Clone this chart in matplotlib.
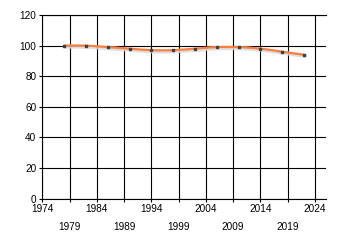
import numpy as np
import matplotlib
matplotlib.use("Agg")
import matplotlib.pyplot as plt
from matplotlib.path import Path
from matplotlib.patches import PathPatch
import matplotlib.patheffects as pe

years = [1978, 1982, 1986, 1990, 1994, 1998, 2002, 2006, 2010, 2014, 2018, 2022]
values = [100, 100, 99, 98, 97, 97, 98, 99, 99, 98, 96, 94]

major_years = [1974, 1984, 1994, 2004, 2014, 2024]
minor_years = [1979, 1989, 1999, 2009, 2019]
y_ticks = [0, 20, 40, 60, 80, 100, 120]

LINE_COLOR = "#FF7F3F"
FONT = "Liberation Sans"


def spline_path(x, y, tension=0.5):
    # cardinal spline as cubic bezier segments
    x = np.asarray(x, float)
    y = np.asarray(y, float)
    pts = np.column_stack([x, y])
    n = len(pts)
    verts = [pts[0]]
    codes = [Path.MOVETO]
    for i in range(n - 1):
        p0 = pts[i - 1] if i > 0 else pts[i]
        p1 = pts[i]
        p2 = pts[i + 1]
        p3 = pts[i + 2] if i + 2 < n else pts[i + 1]
        c1 = p1 + (p2 - p0) * tension / 3
        c2 = p2 - (p3 - p1) * tension / 3
        verts += [c1, c2, p2]
        codes += [Path.CURVE4] * 3
    return Path(verts, codes)


fig = plt.figure(figsize=(3.4, 2.45), dpi=100)
ax = fig.add_axes([0.1244, 0.189, 0.958 - 0.1244, 0.9388 - 0.189])

ax.set_xlim(1974, 2026)
ax.set_ylim(0, 120)

ax.set_xticks(major_years)
ax.set_xticks(minor_years, minor=True)
ax.set_xticklabels([str(v) for v in major_years], fontfamily=FONT, fontsize=7.2)
ax.set_xticklabels([str(v) for v in minor_years], minor=True, fontfamily=FONT, fontsize=7.2)
ax.set_yticks(y_ticks)
ax.set_yticklabels([str(v) for v in y_ticks], fontfamily=FONT, fontsize=7.2)

ax.tick_params(axis="x", which="major", length=2, width=0.8, pad=1.5, colors="black")
ax.tick_params(axis="x", which="minor", length=2, width=0.8, pad=14.5, colors="black")
ax.tick_params(axis="y", length=2.2, width=0.8, pad=2, colors="black")

ax.grid(True, which="both", axis="x", color="black", linewidth=0.8)
ax.grid(True, which="major", axis="y", color="black", linewidth=0.8)
ax.set_axisbelow(True)

for side in ["left", "bottom", "top"]:
    ax.spines[side].set_color("black")
    ax.spines[side].set_linewidth(0.8)
ax.spines["right"].set_visible(False)

path = spline_path(years, values)
patch = PathPatch(path, facecolor="none", edgecolor=LINE_COLOR, linewidth=1.6,
                  capstyle="round", zorder=3,
                  path_effects=[pe.SimpleLineShadow(offset=(0.8, -0.8), shadow_color="#d8d8d8", alpha=0.8, linewidth=3),
                                pe.Normal()])
ax.add_patch(patch)

ax.plot(years, values, linestyle="none", marker="s", markersize=1.5,
        markerfacecolor="#404040", markeredgecolor="#404040", zorder=4)

fig.savefig("out.png", dpi=100)
